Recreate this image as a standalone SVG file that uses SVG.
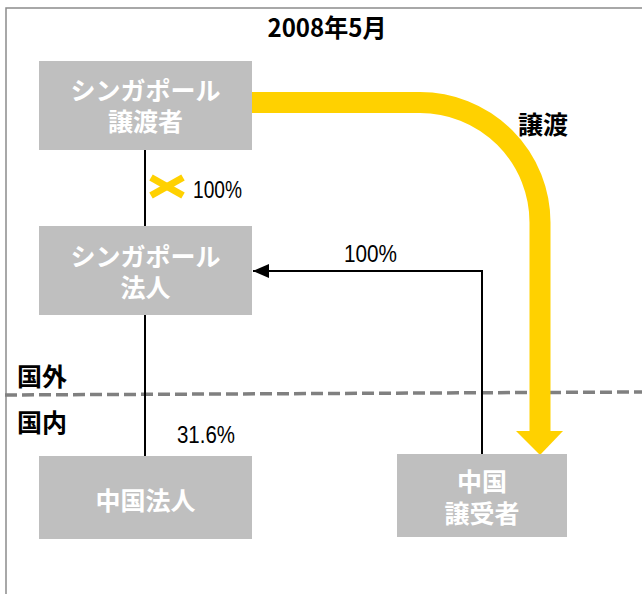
<svg xmlns="http://www.w3.org/2000/svg" width="642" height="594" viewBox="0 0 642 594">
<defs>
<style>
.box{fill:#BFBFBF}
.bt{font-family:"Noto Sans CJK JP","Liberation Sans",sans-serif;font-weight:bold;font-size:25px;fill:#FFFFFF;text-anchor:middle}
.lbl{font-family:"Noto Sans CJK JP","Liberation Sans",sans-serif;font-weight:bold;font-size:25px;fill:#000000}
.num{font-family:"Liberation Sans","Noto Sans CJK JP",sans-serif;font-size:24px;fill:#000000}
.ln{stroke:#000000;stroke-width:2;fill:none}
</style>
<marker id="ah" viewBox="0 0 16 14" refX="16" refY="7" markerWidth="16" markerHeight="14" markerUnits="userSpaceOnUse" orient="auto">
<path d="M0,0 L16,7 L0,14 Z" fill="#000000"/>
</marker>
</defs>
<rect x="0" y="0" width="642" height="594" fill="#FFFFFF"/>
<g id="frame">
<path d="M6,594 V8 H642" fill="none" stroke="#8C8C8C" stroke-width="1.5"/>
</g>
<text class="lbl" x="327" y="37" text-anchor="middle" font-size="22" textLength="119" lengthAdjust="spacingAndGlyphs">2008年5月</text>
<g id="border-line">
<line x1="5" y1="395" x2="642" y2="392" stroke="#808080" stroke-width="3.5" stroke-dasharray="12,5"/>
<text class="lbl" x="17" y="386" font-size="26">国外</text>
<text class="lbl" x="17" y="432" font-size="26">国内</text>
</g>
<g id="connectors">
<line class="ln" x1="145" y1="150" x2="145" y2="226"/>
<line class="ln" x1="145" y1="315" x2="145" y2="456"/>
<polyline class="ln" points="482,454 482,271 253,271" marker-end="url(#ah)"/>
<path d="M252,102.5 H420 A120,120 0 0 1 540,222.5 V432" fill="none" stroke="#FFD100" stroke-width="21"/>
<polygon points="516,431 563,431 540,455" fill="#FFD100"/>
<g stroke="#FFD100" stroke-width="7" stroke-linecap="butt">
<line x1="151" y1="177.5" x2="183" y2="195.5"/>
<line x1="151" y1="195.5" x2="183" y2="177.5"/>
</g>
<text class="num" x="193" y="198" textLength="49" lengthAdjust="spacingAndGlyphs">100%</text>
<text class="num" x="344" y="262" textLength="53" lengthAdjust="spacingAndGlyphs">100%</text>
<text class="num" x="177" y="443" textLength="58" lengthAdjust="spacingAndGlyphs">31.6%</text>
<text class="lbl" x="518" y="134">譲渡</text>
</g>
<g id="sg-transferor">
<rect class="box" x="39" y="61" width="213" height="89"/>
<text class="bt"><tspan x="145.5" y="100">シンガポール</tspan><tspan x="145.5" y="131">譲渡者</tspan></text>
</g>
<g id="sg-corp">
<rect class="box" x="39" y="226" width="213" height="89"/>
<text class="bt"><tspan x="145.5" y="266">シンガポール</tspan><tspan x="145.5" y="297">法人</tspan></text>
</g>
<g id="cn-corp">
<rect class="box" x="39" y="456" width="213" height="83"/>
<text class="bt" x="145.5" y="510">中国法人</text>
</g>
<g id="cn-transferee">
<rect class="box" x="397" y="454" width="170" height="83"/>
<text class="bt"><tspan x="482" y="491">中国</tspan><tspan x="482" y="523">譲受者</tspan></text>
</g>
</svg>
